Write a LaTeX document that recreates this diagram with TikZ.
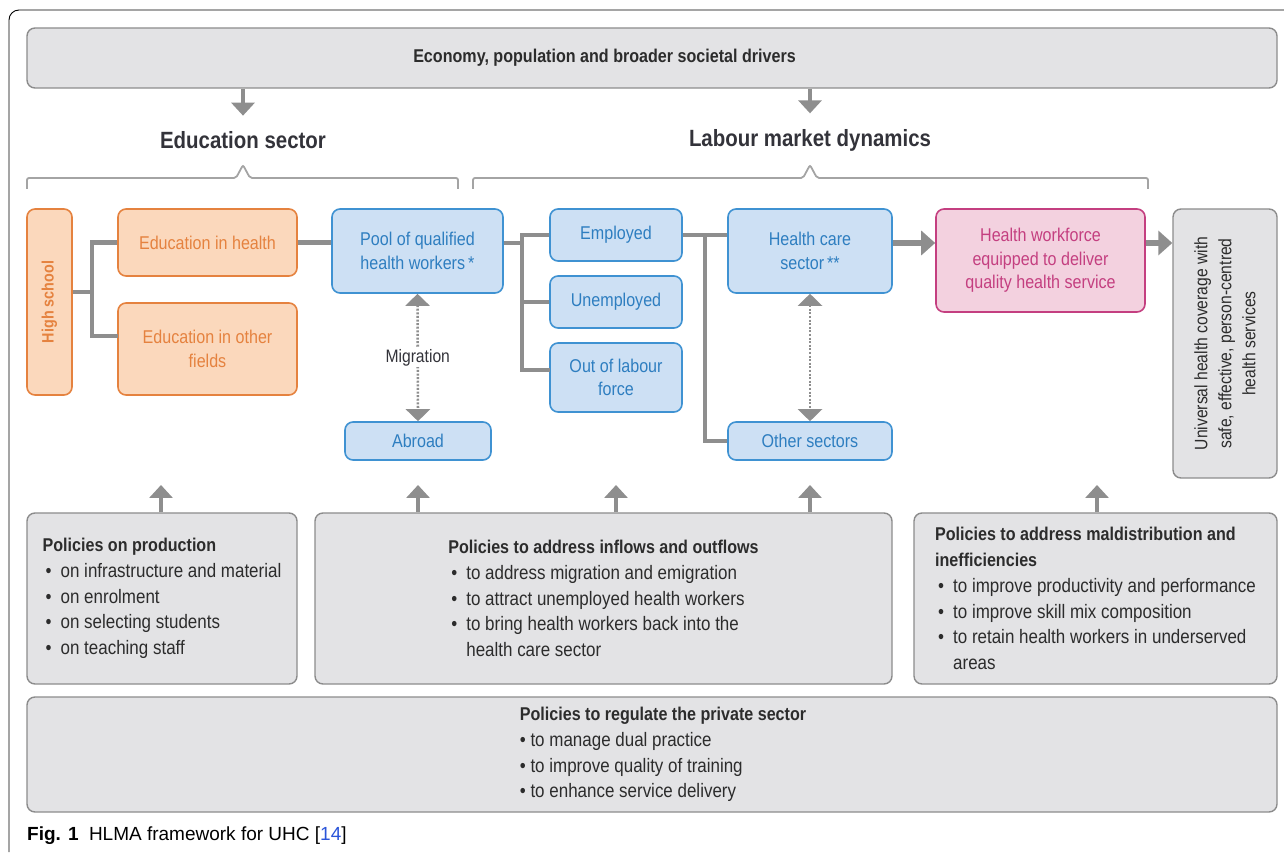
\documentclass[tikz,border=0pt]{standalone}
\usepackage{fontspec}
\setmainfont[FakeStretch=0.87]{Liberation Sans}
\newfontfamily\capfont{Liberation Sans}
\usetikzlibrary{arrows.meta,positioning,calc}
\definecolor{EduOrange}{HTML}{E5823F}
\definecolor{EduFill}{HTML}{FBD8BC}
\definecolor{LabBlue}{HTML}{3F92D2}
\definecolor{LabFill}{HTML}{CDE0F4}
\definecolor{LabText}{HTML}{2E7EC0}
\definecolor{HwPink}{HTML}{C43F80}
\definecolor{HwFill}{HTML}{F3D1DF}
\definecolor{PolEdge}{HTML}{8C8C8C}
\definecolor{PolFill}{HTML}{E3E3E5}
\definecolor{PolText}{HTML}{2C2C2C}
\definecolor{LinkGray}{HTML}{8E8E8E}
\definecolor{HdrText}{HTML}{33333A}
\definecolor{RefBlue}{HTML}{2B55D9}
\newcommand{\itm}{\makebox[18pt][l]{\hspace{3pt}\textbullet}}
\newcommand{\ptitle}[1]{{\bfseries\fontsize{18.5}{25.8}\selectfont #1}}

\begin{document}
\begin{tikzpicture}[x=1pt,y=1pt,
  sz/.style 2 args={minimum width=#1pt,minimum height=#2pt},
  bx/.style={rounded corners=8pt,line width=1.6pt,inner sep=2pt,align=center,font=\fontsize{18.5}{23.5}\selectfont},
  edu/.style={bx,draw=EduOrange,fill=EduFill,text=EduOrange},
  lab/.style={bx,draw=LabBlue,fill=LabFill,text=LabText},
  hwf/.style={bx,draw=HwPink,fill=HwFill,text=HwPink},
  grey/.style={bx,line width=1.4pt,draw=PolEdge,fill=PolFill,text=PolText},
  pol/.style={grey,align=left,font=\fontsize{19.5}{25.8}\selectfont},
  ptxt/.style={inner sep=0pt,text=PolText,align=left,font=\fontsize{19.5}{25.8}\selectfont},
  hdr/.style={inner sep=0pt,font=\bfseries\fontsize{23.5}{28}\selectfont,text=HdrText},
  link/.style={draw=LinkGray,line width=4.8pt},
  flow/.style={link,line width=5.5pt,-{Triangle[length=14pt,width=24pt]}},
  drop/.style={draw=LinkGray,line width=4.2pt,-{Triangle[length=13pt,width=23pt]}},
  mig/.style={draw=LinkGray,line width=2.6pt,dash pattern={on 2pt off 1.6pt},
    {Triangle[length=12pt,width=24pt]}-{Triangle[length=12pt,width=24pt]}}]
\useasboundingbox (0,0) rectangle (1284,852);

% ===== frame =====
\draw[line width=0.9pt,rounded corners=10pt] (9,0) -- (9,842) -- (1284,842);

% ===== drivers and headers =====
\node[grey,sz={1250}{60}] (top) at (652,794) {};
\node[ptxt,font=\bfseries\fontsize{18.5}{22}\selectfont] (drv) at ([xshift=-47.5pt]top.center)
  {Economy, population and broader societal drivers};
\node[hdr] (edsec) at (243,711.5) {Education sector};
\node[hdr] (lmd) at (810,711.5) {Labour market dynamics};
\draw[drop,shorten >=16pt] (top.south -| edsec) -- (edsec.north);
\draw[drop,shorten >=16pt] (top.south -| lmd) -- (lmd.north);

% braces
\draw[LinkGray!80,line width=1.8pt,rounded corners=2pt]
  (27,663) -- (27,674) -- (236,674) -- (243,687) -- (250,674) -- (458,674) -- (458,663);
\draw[LinkGray!80,line width=1.8pt,rounded corners=2pt]
  (473,663) -- (473,674) -- (803,674) -- (810,687) -- (817,674) -- (1148,674) -- (1148,663);

% ===== education =====
\node[edu,rotate=90,sz={186}{45},font=\bfseries\fontsize{16.5}{20}\selectfont] (hs) at (49.5,550) {High school};
\node[edu,sz={179}{67}] (eh) at (207.5,609.5) {Education in health};
\node[edu,sz={179}{92}] (eo) at (207.5,503) {Education in other\\fields};

% ===== labour market =====
\node[lab,sz={171}{84}] (pool) at (417.5,601) {Pool of qualified\\health workers\,*};
\node[lab,sz={146}{38}] (abroad) at (418,411) {Abroad};
\node[lab,sz={132}{52}] (emp) at (616,617) {Employed};
\node[lab,sz={132}{52}] (unemp) at (616,550) {Unemployed};
\node[lab,sz={132}{69}] (olf) at (616,474.5) {Out of labour\\force};
\node[lab,sz={164}{84}] (hc) at (810,601) {Health care\\sector\,**};
\node[lab,sz={164}{38}] (oth) at (810,411) {Other sectors};
\node[hwf,sz={209}{103}] (hw) at (1040.5,591.5) {Health workforce\\equipped to deliver\\quality health service};
\node[grey,rotate=90,sz={269}{104},font=\fontsize{18}{24}\selectfont] (uhc) at (1225,508.5)
  {Universal health coverage with\\safe, effective, person-centred\\health services};

% ===== links =====
\coordinate (rowA) at (0,609);
\coordinate (jHs) at (92,560);
\coordinate (jEo) at (118,516);
\coordinate (jPl) at (522,609);
\coordinate (jOf) at (550,482);
\coordinate (jHc) at (705,617);
\draw[link] (hs.south |- jHs) -- (jHs);
\draw[link] (eh.west) -| (jHs);
\draw[link] (jHs) |- (jEo);
\draw[link] (eh.east) -- (eh.east -| pool.west);
\draw[link] (pool.east |- jPl) -- (jPl);
\draw[link] (emp.west) -| (jPl);
\draw[link] (jPl) |- (jOf);
\draw[link] (jPl |- unemp.west) -- (unemp.west);
\draw[link] (emp.east) -- (emp.east -| hc.west);
\draw[link] (jHc) |- (oth.west);
\draw[flow] (hc.east |- rowA) -- (hw.west |- rowA);
\draw[flow] (hw.east |- rowA) -- (uhc.north |- rowA);
\draw[mig] (pool.south) -- node[fill=white,inner sep=1pt,text=HdrText,font=\fontsize{18}{20}\selectfont]{Migration} (abroad.north);
\draw[mig] (hc.south) -- (oth.north);

% ===== policies =====
\node[pol,sz={270}{171}] (polA) at (162,253.5)
  {\ptitle{Policies on production}\\
   \itm on infrastructure and material\\
   \itm on enrolment\\
   \itm on selecting students\\
   \itm on teaching staff};
\node[pol,sz={577}{171}] (polB) at (603.5,253.5)
  {\ptitle{Policies to address inflows and outflows}\\
   \itm to address migration and emigration\\
   \itm to attract unemployed health workers\\
   \itm to bring health workers back into the\\
   \hspace*{18pt}health care sector};
\node[pol,sz={363}{171}] (polC) at (1095.5,253.5)
  {\ptitle{Policies to address maldistribution and}\\
   \ptitle{inefficiencies}\\
   \itm to improve productivity and performance\\
   \itm to improve skill mix composition\\
   \itm to retain health workers in underserved\\
   \hspace*{18pt}areas};
\node[grey,sz={1250}{115}] (polD) at (652,97.5) {};
\node[ptxt] (polDtxt) at ([xshift=11pt]polD.center)
  {\ptitle{Policies to regulate the private sector}\\
   \textbullet\ to manage dual practice\\
   \textbullet\ to improve quality of training\\
   \textbullet\ to enhance service delivery};

\coordinate (tA) at (161,367);
\coordinate (tB) at (418,367);
\coordinate (tC) at (616,367);
\coordinate (tD) at (810,367);
\coordinate (tE) at (1097,367);
\foreach \p/\t in {polA/tA,polB/tB,polB/tC,polB/tD,polC/tE}
  \draw[drop] (\p.north -| \t) -- (\t);

% ===== caption =====
\node[anchor=base west,inner sep=0pt,font=\capfont\fontsize{19}{22}\selectfont] (cap) at (27,12)
  {\textbf{Fig. 1}\hspace{0.55em}HLMA framework for UHC [\textcolor{RefBlue}{14}]};
\end{tikzpicture}
\end{document}
